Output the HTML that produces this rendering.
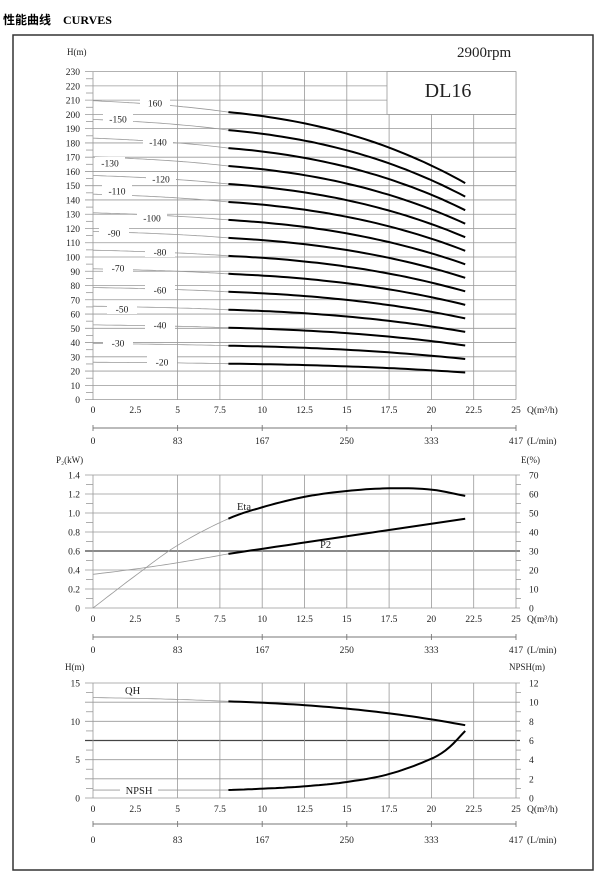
<!DOCTYPE html>
<html><head><meta charset="utf-8"><style>
html,body{margin:0;padding:0;background:#fff;}
svg{display:block;}
text{font-family:"Liberation Serif","Noto Serif CJK SC",serif;font-size:10px;fill:#222;}
.ct{text-anchor:middle}
.rt{text-anchor:end}
</style></head><body>
<svg id="s" width="600" height="876" viewBox="0 0 600 876" xmlns="http://www.w3.org/2000/svg">
<rect x="0" y="0" width="600" height="876" fill="#fff"/>
<text x="3" y="24" style="font-family:'Liberation Serif','Noto Sans CJK SC',sans-serif;font-size:12px;font-weight:bold;fill:#000">性能曲线　CURVES</text>
<rect x="13" y="35" width="580" height="835" fill="none" stroke="#333" stroke-width="1.5"/>
<g id="grid" stroke="#999" stroke-width="0.8" fill="none"></g>
<g id="curves" fill="none"></g>
<rect x="387" y="71.6" width="129" height="42.8" fill="#fff" stroke="#999" stroke-width="0.8"/>
<text x="448" y="97" class="ct" style="font-size:20px">DL16</text>
<text x="457" y="57" style="font-size:15px">2900rpm</text>

<text x="67" y="55" style="font-size:9px">H(m)</text>
<g id="lbl"></g>
<text x="527" y="413" style="font-size:9.5px">Q(m³/h)</text>
<text x="527" y="444" style="font-size:9.5px">(L/min)</text>
<text x="56" y="463" style="font-size:9px">P₂(kW)</text>
<text x="521" y="463" style="font-size:9px">E(%)</text>
<text x="527" y="622" style="font-size:9.5px">Q(m³/h)</text>
<text x="527" y="653" style="font-size:9.5px">(L/min)</text>
<text x="237" y="510" style="font-size:10.5px">Eta</text>
<text x="320" y="548" style="font-size:10.5px">P2</text>
<text x="65" y="670" style="font-size:9px">H(m)</text>
<text x="509" y="670" style="font-size:9px">NPSH(m)</text>
<text x="527" y="812" style="font-size:9.5px">Q(m³/h)</text>
<text x="527" y="843" style="font-size:9.5px">(L/min)</text>
<text x="125" y="694" style="font-size:10.5px;fill:#fff;stroke:#fff;stroke-width:4">QH</text>
<text x="125" y="694" style="font-size:10.5px">QH</text>
</svg>
<script>
const NS="http://www.w3.org/2000/svg";
const s=document.getElementById('s');
function el(p,tag,a,txt){const e=document.createElementNS(NS,tag);for(const k in a)e.setAttribute(k,a[k]);if(txt!==undefined)e.textContent=txt;(typeof p==='string'?document.getElementById(p):p).appendChild(e);return e;}
const X=q=>93+q*16.92;
function line(g,x1,y1,x2,y2,st,w){el(g,'line',{x1,y1,x2,y2,stroke:st||'#999','stroke-width':w||0.8});}
function txt(x,y,t,anchor,size){el(s,'text',{x,y,'text-anchor':anchor||'middle',style:'font-size:'+(size||9.5)+'px'},t);}
const vq=[0,5,7.5,10,12.5,15,17.5,20,22.5,25];
const ql=['0','2.5','5','7.5','10','12.5','15','17.5','20','22.5','25'];
function qaxis(yl){for(let i=0;i<=10;i++){txt(X(i*2.5),yl,ql[i]);}}
function laxis(yline,yl){line('grid',X(0),yline,X(25),yline,'#777',0.9);
 const lv=['0','83','167','250','333','417'];
 for(let i=0;i<=5;i++){line('grid',X(i*5),yline-3,X(i*5),yline+3,'#777',0.9);txt(X(i*5),yl,lv[i]);}}
const yT=h=>399.6-1.426*h;
for(let h=0;h<=230;h+=10){line('grid',85,yT(h),516,yT(h));txt(80,yT(h)+3.5,String(h),'end',9.5);}
for(let h=5;h<230;h+=10){line('grid',86,yT(h),93,yT(h));}
vq.forEach(q=>line('grid',X(q),yT(230),X(q),yT(0)));
qaxis(413);laxis(428,444);
const f=q=>12.8-0.000633*Math.pow(q,2.77)+(q<8?0.3*(1-q/8):0);
function path(fx,fy,a,b,n){let d='';for(let i=0;i<=n;i++){const q=a+(b-a)*i/n;d+=(i?'L':'M')+X(q).toFixed(1)+','+fy(fx(q)).toFixed(1);}return d;}
for(let N=20;N<=160;N+=10){const n=N/10;
 el('curves','path',{d:path(q=>n*f(q),yT,0,8,30),stroke:'#999','stroke-width':0.8});
 el('curves','path',{d:path(q=>n*f(q),yT,8,22,40),stroke:'#000','stroke-width':2});}
const L=[[160,155,103],[150,118,119],[140,158,142],[130,110,163],[120,161,179],[110,117,191],[100,152,218],[90,114,233],[80,160,252],[70,118,268],[60,160,290],[50,122,309],[40,160,325],[30,118,343],[20,162,362]];
L.forEach(([N,x,y])=>{el('lbl','rect',{x:x-15,y:y-6,width:30,height:11,fill:'#fff'});
 el('lbl','text',{x,y:y+3.5,'text-anchor':'middle',style:'font-size:9.5px'},(N==160?'':'-')+N);});
const yP=p=>608-p*95, yE=e=>608-e*1.9;
for(let i=0;i<=7;i++){const y=yP(i*0.2);line('grid',85,y,520,y,i==3?'#444':'#999',i==3?1.2:0.8);
 txt(80,y+3.5,i==0?'0':(i*0.2).toFixed(1),'end',9.5);txt(529,y+3.5,String(i*10),'start',9.5);}
for(let i=0;i<7;i++){const y=yP(i*0.2+0.1);line('grid',86,y,93,y);line('grid',516,y,521,y);}
vq.forEach(q=>line('grid',X(q),yP(1.4),X(q),yP(0)));
qaxis(622);laxis(637,653);
function spline(pts){
 return q=>{let i=0;while(i<pts.length-2&&q>pts[i+1][0])i++;
 const p0=pts[Math.max(i-1,0)],p1=pts[i],p2=pts[i+1],p3=pts[Math.min(i+2,pts.length-1)];
 const t=(q-p1[0])/(p2[0]-p1[0]);
 const m1=(p2[1]-p0[1])/(p2[0]-p0[0])*(p2[0]-p1[0]),m2=(p3[1]-p1[1])/(p3[0]-p1[0])*(p2[0]-p1[0]);
 const t2=t*t,t3=t2*t;return (2*t3-3*t2+1)*p1[1]+(t3-2*t2+t)*m1+(-2*t3+3*t2)*p2[1]+(t3-t2)*m2;};}
const eta=spline([[0,0],[2.5,17],[5,33],[8,47],[10,53],[12.5,58.5],[15,61.6],[17.5,63],[20,62.3],[22,59]]);
el('curves','path',{d:path(eta,yE,0,8,40),stroke:'#999','stroke-width':0.8});
el('curves','path',{d:path(eta,yE,8,22,50),stroke:'#000','stroke-width':2});
const p2=q=>q<8?0.355+0.02*q+0.00087*q*q:0.57+(0.94-0.57)*(q-8)/14;
el('curves','path',{d:path(p2,yP,0,8,30),stroke:'#999','stroke-width':0.8});
el('curves','path',{d:path(p2,yP,8,22,20),stroke:'#000','stroke-width':2});
const yH=h=>798-h*7.667, yN=n=>798-n*9.583;
for(let i=0;i<=6;i++){const h=i*2.5,y=yH(h);line('grid',85,y,520,y,i==3?'#444':'#999',i==3?1.2:0.8);
 if(i%2==0)txt(80,y+3.5,String(h),'end',9.5);txt(529,y+3.5,String(i*2),'start',9.5);}
for(let i=0;i<6;i++){const y=yH(i*2.5+1.25);line('grid',86,y,93,y);line('grid',516,y,521,y);}
vq.forEach(q=>line('grid',X(q),yH(15),X(q),yH(0)));
qaxis(812);laxis(824,843);
el('curves','path',{d:path(f,yH,0,8,30),stroke:'#999','stroke-width':0.8});
el('curves','path',{d:path(f,yH,8,22,40),stroke:'#000','stroke-width':2});
const np=spline([[8,0.83],[10,0.97],[12.5,1.22],[15,1.67],[17.5,2.5],[20,4.1],[21,5.2],[22,7.0]]);
line('curves',X(0),yN(0.83),X(8),yN(0.83),'#999',0.8);
el('curves','path',{d:path(np,yN,8,22,60),stroke:'#000','stroke-width':2});
el(s,'rect',{x:120,y:784,width:38,height:12,fill:'#fff'});
el(s,'text',{x:139,y:794,'text-anchor':'middle',style:'font-size:10.5px'},'NPSH');
</script>
</body></html>
